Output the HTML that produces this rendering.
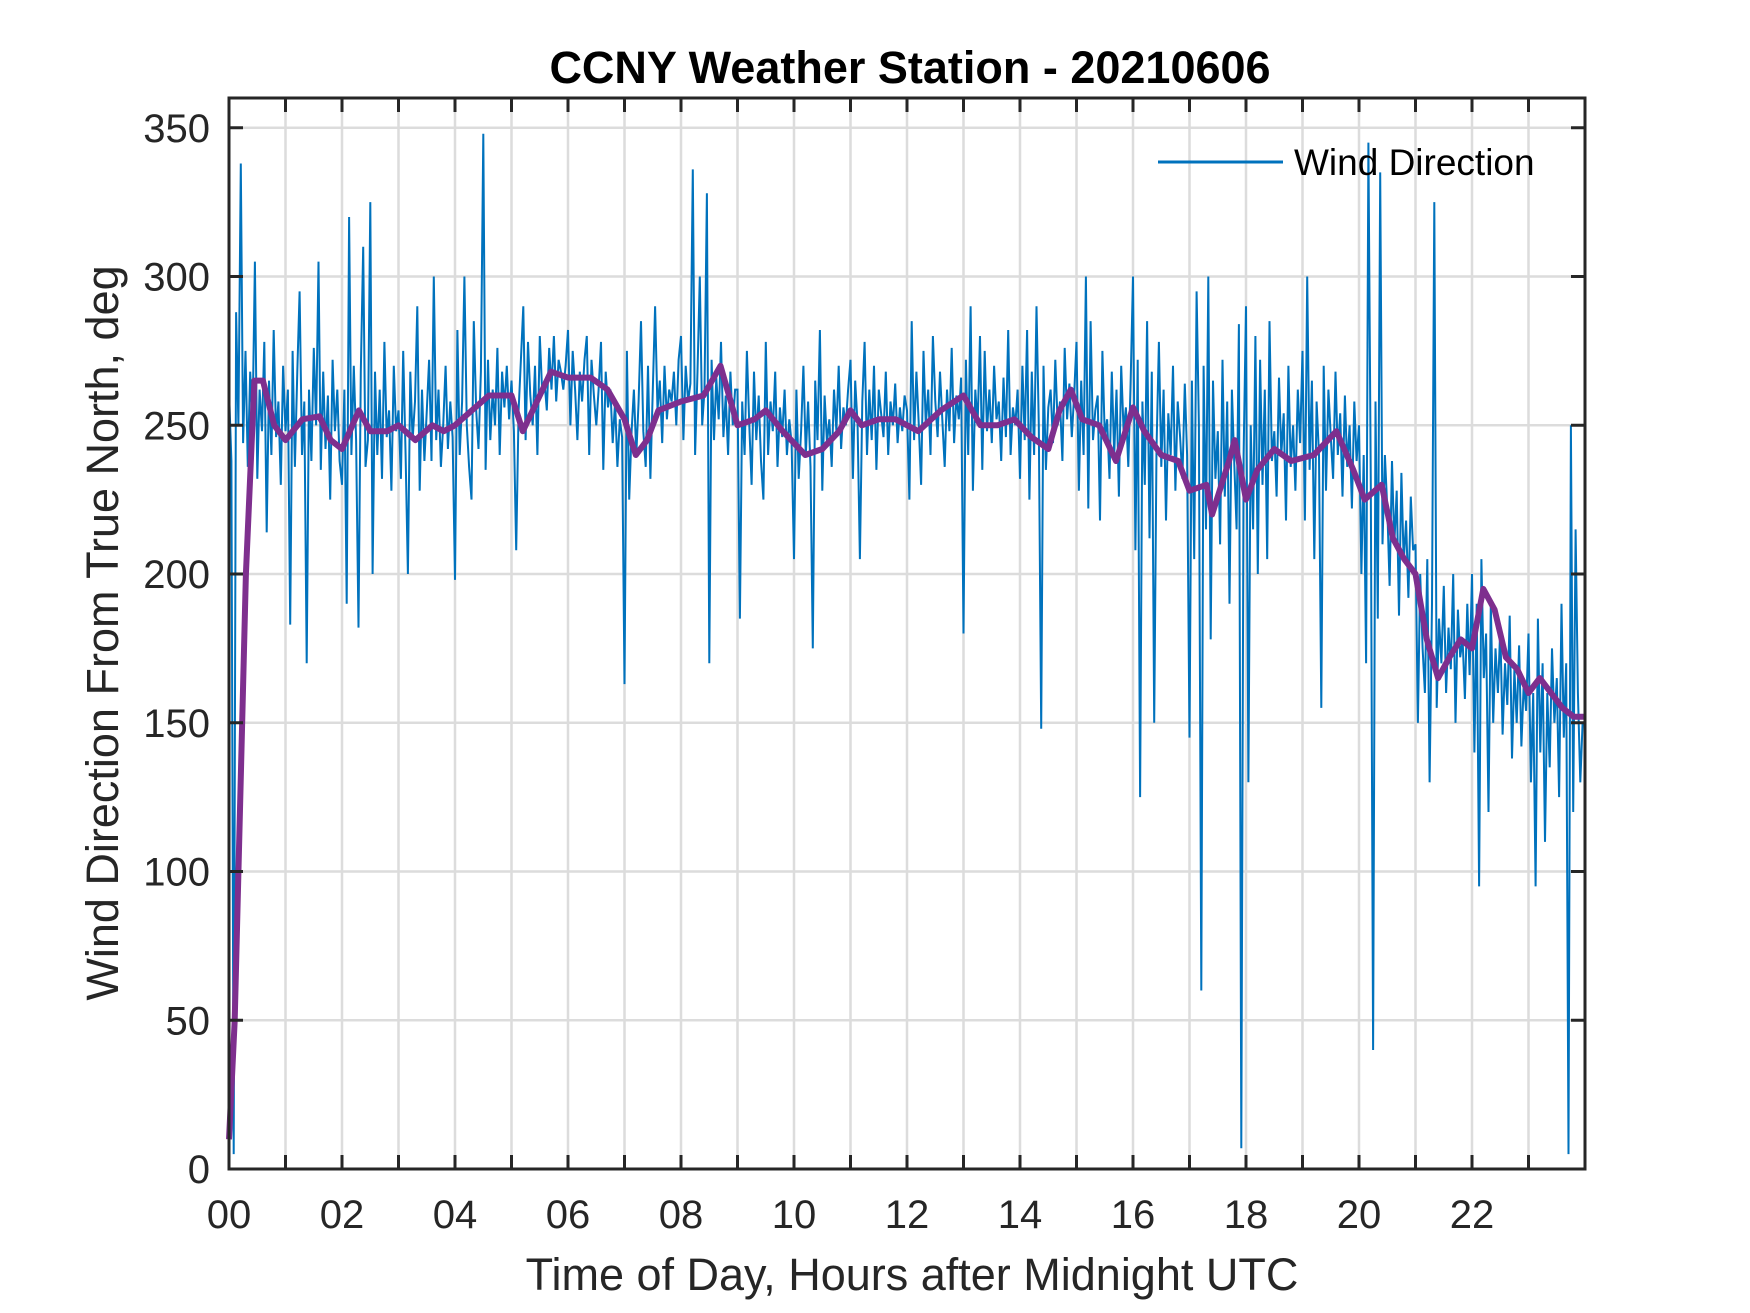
<!DOCTYPE html>
<html>
<head>
<meta charset="utf-8">
<style>
html,body{margin:0;padding:0;background:#fff;}
svg{display:block;font-family:"Liberation Sans",Arial,sans-serif;}
</style>
</head>
<body>
<svg id="chart" width="1750" height="1313" viewBox="0 0 1750 1313" xmlns="http://www.w3.org/2000/svg">
  <rect x="0" y="0" width="1750" height="1313" fill="#fff"/>
  <g id="grid"></g>
  <g id="series"></g>
  <g id="axes"></g>
  <text x="910" y="83" text-anchor="middle" font-size="45" font-weight="bold" fill="#000">CCNY Weather Station - 20210606</text>
  <text x="912" y="1290" text-anchor="middle" font-size="45" fill="#262626">Time of Day, Hours after Midnight UTC</text>
  <text transform="translate(118,633) rotate(-90)" text-anchor="middle" font-size="45" fill="#262626">Wind Direction From True North, deg</text>
  <g>
    <line x1="1158" y1="162" x2="1283" y2="162" stroke="#0072BD" stroke-width="3"/>
    <text x="1294" y="175" font-size="37" fill="#000">Wind Direction</text>
  </g>
</svg>
<script>
const xTickLabels = ["00","02","04","06","08","10","12","14","16","18","20","22"];
const yTicks = [0,50,100,150,200,250,300,350];
const windDirection = [
262,238,5,288,250,338,244,275,236,268,250,305,232,262,248,278,214,265,240,282,246,258,230,270,
248,262,183,275,236,268,295,240,258,170,262,238,276,250,305,235,268,242,260,225,272,248,262,238,
230,262,190,320,240,270,245,182,268,310,236,245,325,200,268,240,262,232,278,246,255,228,270,248,
255,232,275,240,200,268,245,258,290,228,262,238,255,272,238,300,245,262,236,250,270,242,258,246,
198,282,240,258,300,250,236,225,285,255,242,268,348,235,272,245,262,250,276,240,268,256,270,252,
265,248,208,255,272,290,245,278,260,250,270,240,280,262,265,255,276,262,280,258,272,268,262,270,
282,250,275,262,245,268,258,272,280,240,272,260,250,262,278,235,268,256,262,244,258,236,252,246,
163,275,225,248,262,240,258,285,248,236,270,232,262,290,255,265,244,270,252,262,258,268,250,272,
280,245,270,258,264,336,240,268,300,250,262,328,170,272,245,266,252,278,246,260,240,268,250,262,
262,185,258,240,275,250,230,268,245,260,238,225,278,240,258,248,268,236,256,246,262,240,252,244,
205,262,232,248,270,240,258,236,175,265,245,282,228,260,244,252,236,262,248,270,242,256,250,262,
272,232,265,250,205,258,278,240,262,245,270,235,262,254,246,268,240,258,250,264,244,256,248,260,
255,225,285,245,268,250,230,275,250,262,240,280,258,246,268,252,236,262,248,276,244,260,252,266,
180,272,240,290,228,262,250,280,235,275,248,262,244,270,252,258,238,266,246,282,240,256,250,262,
232,270,245,282,225,268,240,290,250,148,270,235,256,262,244,272,250,258,238,276,252,264,246,260,
278,228,265,240,300,222,285,245,255,260,218,275,246,252,232,268,240,262,226,270,248,256,236,264,
300,208,272,125,258,230,285,212,268,150,242,278,236,262,218,254,240,270,228,258,246,232,264,240,
145,265,205,295,250,60,270,215,300,178,265,232,248,210,272,226,258,190,262,238,215,284,7,240,
290,130,250,215,280,200,272,230,262,205,285,238,248,226,266,240,254,218,270,236,250,228,262,244,
275,218,300,235,265,205,258,240,155,270,228,262,246,232,268,240,254,226,260,236,250,222,258,238,
250,200,240,170,345,230,40,258,185,335,210,240,222,196,238,210,228,186,234,204,218,192,226,208,
210,150,200,175,160,205,130,190,325,155,185,170,196,160,182,168,200,150,188,172,178,158,190,166,
200,140,190,95,205,165,180,120,190,150,175,160,182,146,170,156,186,138,168,150,176,142,164,154,
180,130,160,95,185,140,170,110,160,135,175,150,165,125,190,145,170,5,250,120,215,160,130,150,
150
];
const smoothHours = [0,0.1,0.3,0.45,0.6,0.8,1.0,1.3,1.6,1.8,2.0,2.3,2.5,2.8,3.0,3.3,3.6,3.8,4.0,4.3,4.6,5.0,5.2,5.5,5.7,6.0,6.4,6.7,7.0,7.2,7.4,7.6,8.0,8.4,8.7,9.0,9.3,9.5,9.8,10.2,10.5,10.8,11.0,11.2,11.5,11.8,12.2,12.6,13.0,13.3,13.6,13.9,14.2,14.5,14.7,14.9,15.1,15.4,15.7,16.0,16.2,16.5,16.8,17.0,17.3,17.4,17.7,17.8,18.0,18.2,18.5,18.8,19.2,19.6,19.9,20.1,20.4,20.6,20.8,21.0,21.2,21.4,21.6,21.8,22.0,22.2,22.4,22.6,22.8,23.0,23.2,23.4,23.6,23.8,24.0];
const smoothValues = [10,50,200,265,265,250,245,252,253,245,242,255,248,248,250,245,250,248,250,255,260,260,248,260,268,266,266,262,252,240,245,255,258,260,270,250,252,255,248,240,242,248,255,250,252,252,248,255,260,250,250,252,246,242,255,262,252,250,238,256,248,240,238,228,230,220,238,245,225,235,242,238,240,248,235,225,230,212,205,200,178,165,172,178,175,195,188,172,168,160,165,160,155,152,152];

const X0=229, X1=1585, Y0=1169, Y1=98, XMAX=24, YMAX=360;
function xs(h){return X0+(h/XMAX)*(X1-X0);}
function ys(v){return Y0-(v/YMAX)*(Y0-Y1);}
const NS="http://www.w3.org/2000/svg";
function mk(tag,attrs,parent){const e=document.createElementNS(NS,tag);for(const k in attrs)e.setAttribute(k,attrs[k]);parent.appendChild(e);return e;}

const grid=document.getElementById('grid');
for(let h=1;h<XMAX;h++){
  const l=mk('line',{x1:xs(h),x2:xs(h),y1:Y1,y2:Y0,stroke:'#dcdcdc','stroke-width':2.5},grid);
  
  
}
yTicks.forEach(v=>{
  const l=mk('line',{x1:X0,x2:X1,y1:ys(v),y2:ys(v),stroke:'#dcdcdc','stroke-width':2.5},grid);
  
  
});

const series=document.getElementById('series');
const n=windDirection.length-1;
const pts=windDirection.map((v,i)=>xs(i*XMAX/n).toFixed(1)+','+ys(v).toFixed(1)).join(' ');
const blue=mk('polyline',{points:pts,fill:'none',stroke:'#0072BD','stroke-width':2,'stroke-linejoin':'miter'},series);


const ppts=smoothHours.map((h,i)=>xs(h).toFixed(1)+','+ys(smoothValues[i]).toFixed(1)).join(' ');
const purple=mk('polyline',{points:ppts,fill:'none',stroke:'#7E2F8E','stroke-width':6,'stroke-linejoin':'round'},series);



const axes=document.getElementById('axes');
const box=mk('rect',{x:X0,y:Y1,width:X1-X0,height:Y0-Y1,fill:'none',stroke:'#262626','stroke-width':3},axes);


const TL=14;
for(let h=0;h<=XMAX;h++){
  const b=mk('line',{x1:xs(h),x2:xs(h),y1:Y0,y2:Y0-TL,stroke:'#262626','stroke-width':3},axes);
  
  
  const t=mk('line',{x1:xs(h),x2:xs(h),y1:Y1,y2:Y1+TL,stroke:'#262626','stroke-width':3},axes);
  
  
}
xTickLabels.forEach((lab,i)=>{
  const t=mk('text',{x:xs(i*2),y:1228,'text-anchor':'middle','font-size':40,fill:'#262626'},axes);
  t.textContent=lab;
  
  
});
yTicks.forEach(v=>{
  const a=mk('line',{x1:X0,x2:X0+TL,y1:ys(v),y2:ys(v),stroke:'#262626','stroke-width':3},axes);
  
  
  const b=mk('line',{x1:X1,x2:X1-TL,y1:ys(v),y2:ys(v),stroke:'#262626','stroke-width':3},axes);
  
  
  const t=mk('text',{x:210,y:ys(v)+14,'text-anchor':'end','font-size':40,fill:'#262626'},axes);
  t.textContent=String(v);
  
  
});
</script>
</body>
</html>
